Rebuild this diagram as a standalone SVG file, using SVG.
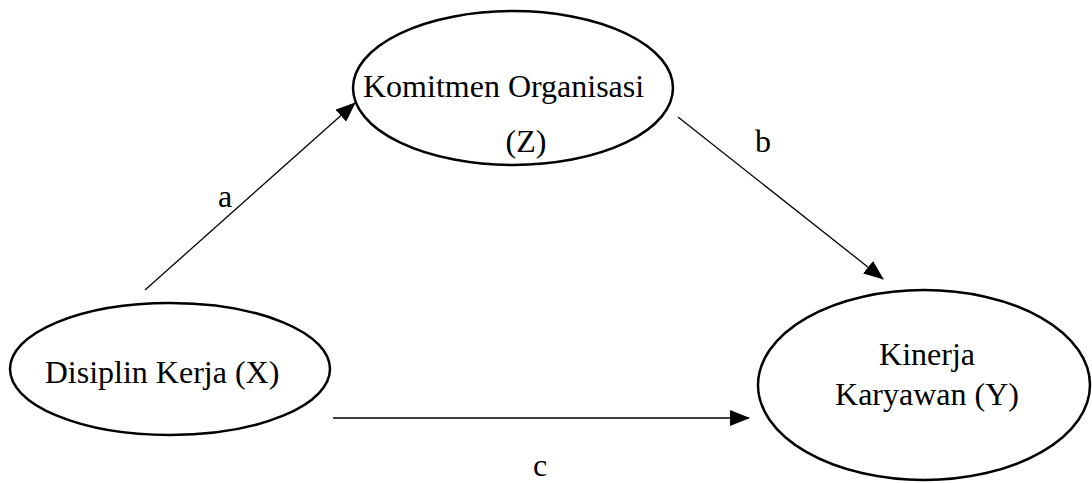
<svg xmlns="http://www.w3.org/2000/svg" width="1092" height="483" viewBox="0 0 1092 483">
<style>
.node{fill:#fff;stroke:#000;stroke-width:2.5}
.t{font-family:"Liberation Serif","Times New Roman",serif;font-size:32px;fill:#000}
.lbl{font-family:"Liberation Serif","Times New Roman",serif;font-size:32px;fill:#000;text-anchor:middle}
.edge{stroke:#000;stroke-width:1.3;fill:none;marker-end:url(#ah)}
</style>
<defs>
<marker id="ah" markerWidth="20" markerHeight="16" refX="19" refY="8" orient="auto" markerUnits="userSpaceOnUse">
<path d="M0,0 L20,8 L0,16 Z" fill="#000"/>
</marker>
</defs>
<rect width="1092" height="483" fill="#fff"/>
<g id="connectors">
<line class="edge" x1="145" y1="290" x2="355" y2="103"/>
<line class="edge" x1="678" y1="117" x2="883" y2="279"/>
<line class="edge" x1="333" y1="418" x2="749" y2="418"/>
<text class="lbl" x="225" y="207">a</text>
<text class="lbl" x="763" y="152">b</text>
<text class="lbl" x="540" y="476">c</text>
</g>
<g id="node-z">
<ellipse class="node" cx="513" cy="88" rx="160" ry="77"/>
<text class="t" x="363" y="97">Komitmen Organisasi</text>
<text class="t" x="526" y="152" text-anchor="middle">(Z)</text>
</g>
<g id="node-x">
<ellipse class="node" cx="170" cy="369" rx="160" ry="66"/>
<text class="t" x="162" y="383" text-anchor="middle">Disiplin Kerja (X)</text>
</g>
<g id="node-y">
<ellipse class="node" cx="924" cy="385" rx="166" ry="95"/>
<text class="t" x="927" y="365" text-anchor="middle">Kinerja</text>
<text class="t" x="927" y="405" text-anchor="middle">Karyawan (Y)</text>
</g>
</svg>
